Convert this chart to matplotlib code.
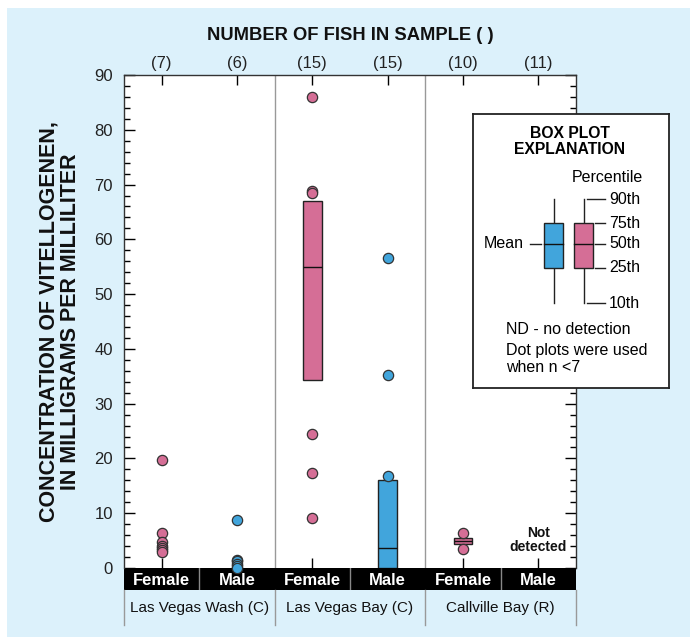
import matplotlib
matplotlib.use("Agg")
import matplotlib.pyplot as plt
from matplotlib.patches import Rectangle
from matplotlib.ticker import MultipleLocator
import numpy as np

# ---------------- data ----------------
groups = ["Female", "Male", "Female", "Male", "Female", "Male"]
sites = ["Las Vegas Wash (C)", "Las Vegas Bay (C)", "Callville Bay (R)"]
counts = [7, 6, 15, 15, 10, 11]

lvw_female_dots = [19.7, 6.3, 4.8, 4.1, 3.6, 3.2, 3.0]
lvw_male_dots = [8.7, 1.5, 1.2, 0.8, 0.4, 0.0]
lvb_female_dots = [86.0, 68.8, 68.4, 24.4, 17.4, 9.1]
lvb_male_dots = [56.6, 35.3, 16.8]
cb_female_dots = [6.3, 3.4]

# box stats: (group index, q1, median, q3)
box_index = [2, 3, 4]
box_q1 = [34.3, 0.0, 4.3]
box_med = [55.0, 3.7, 4.9]
box_q3 = [67.0, 16.1, 5.4]

PINK = "#D56E96"
BLUE = "#41A5DC"
BG = "#DCF1FB"

dot_sets = [lvw_female_dots, lvw_male_dots, lvb_female_dots,
            lvb_male_dots, cb_female_dots, []]

W, H = 690, 637
fig = plt.figure(figsize=(W / 100, H / 100), dpi=100)
fig.patch.set_facecolor("white")
fig.add_artist(Rectangle((7 / W, 0), 1 - 7 / W, 1 - 8 / H, transform=fig.transFigure,
                         facecolor=BG, edgecolor="none", zorder=-10))

FONT = ["Liberation Sans", "DejaVu Sans"]

x_left, x_right = 124, 576
y_top, y_zero, y_bar = 75, 568, 590
ax = fig.add_axes([x_left / W, 1 - y_zero / H, (x_right - x_left) / W, (y_zero - y_top) / H])
ax.set_zorder(3)
ax.set_facecolor("white")
ax.set_xlim(0, 6)
ax.set_ylim(0, 90)
pos = np.arange(len(groups)) + 0.5

# boxes
stats = []
for i, q1, m, q3 in zip(box_index, box_q1, box_med, box_q3):
    stats.append(dict(q1=q1, med=m, q3=q3, whislo=q1, whishi=q3, fliers=[]))
colors = [PINK if groups[i] == "Female" else BLUE for i in box_index]
bp = ax.bxp(stats, positions=[pos[i] for i in box_index], widths=0.25,
            patch_artist=True, showcaps=False, showfliers=False,
            boxprops=dict(linewidth=1.0, edgecolor="#222222"),
            medianprops=dict(color="#111111", linewidth=1.0),
            whiskerprops=dict(linewidth=0), manage_ticks=False)
for patch, c in zip(bp["boxes"], colors):
    patch.set_facecolor(c)
    patch.set_zorder(4)
for med in bp["medians"]:
    med.set_zorder(5)

# dots
for i, vals in enumerate(dot_sets):
    if not vals:
        continue
    c = PINK if groups[i] == "Female" else BLUE
    ax.plot([pos[i]] * len(vals), vals, "o", ms=7.4, mfc=c, mec="#333333",
            mew=0.9, clip_on=False, zorder=6)

# not detected
ax.text(pos[5], 5.1, "Not\ndetected", ha="center", va="center", fontsize=10,
        fontweight="bold", family=FONT, linespacing=1.05, color="#111111")

# site separators
for xs in (2, 4):
    ax.axvline(xs, color="#999999", lw=1.0, zorder=2)

# y ticks
ax.yaxis.set_major_locator(MultipleLocator(10))
ax.yaxis.set_minor_locator(MultipleLocator(2))
ax.tick_params(axis="y", which="major", direction="in", length=8, width=1,
               left=True, right=True, labelsize=12, pad=8, labelcolor="#222222")
ax.tick_params(axis="y", which="minor", direction="in", length=4, width=1,
               left=True, right=True)
for lab in ax.get_yticklabels():
    lab.set_family(FONT)

# x ticks top (counts) and bottom
ax.set_xticks(pos)
ax.set_xticklabels(["(%d)" % c for c in counts], family=FONT)
ax.tick_params(axis="x", direction="in", top=True, bottom=True, labeltop=True,
               labelbottom=False, length=7, width=1, labelsize=12, pad=3,
               labelcolor="#222222")
ax.tick_params(axis="x", which="minor", top=False, bottom=False)
for s in ax.spines.values():
    s.set_color("#333333")
    s.set_linewidth(1.0)
ax.spines["bottom"].set_visible(False)

# title
fig.text(350 / W, 1 - 35 / H, "NUMBER OF FISH IN SAMPLE ( )", ha="center", va="center",
         fontsize=13.2, fontweight="bold", family=FONT, color="#111111")
# y label
fig.text(60 / W, 1 - 322 / H, "CONCENTRATION OF VITELLOGENEN,\nIN MILLIGRAMS PER MILLILITER",
         rotation=90, ha="center", va="center", multialignment="center",
         fontsize=15.5, fontweight="bold", family=FONT, linespacing=1.0, color="#111111")

# black group bar
axb = fig.add_axes([x_left / W, 1 - y_bar / H, (x_right - x_left) / W, (y_bar - y_zero) / H])
axb.set_zorder(2)
axb.set_facecolor("black")
axb.set_xlim(0, 6)
axb.set_ylim(0, 1)
axb.set_xticks([])
axb.set_yticks([])
for s in axb.spines.values():
    s.set_visible(False)
for i, g in enumerate(groups):
    axb.text(pos[i], 0.42, g, ha="center", va="center", color="white",
             fontsize=12, fontweight="bold", family=FONT)
for xs in (1, 3, 5):
    axb.plot([xs, xs], [0, 1], color="#888888", lw=1.0)
for xs in (0, 2, 4, 6):
    axb.plot([xs, xs], [0, -1.6], color="#999999", lw=1.0, clip_on=False)
for k, s in enumerate(sites):
    axb.text(2 * k + 1, -0.82, s, ha="center", va="center", fontsize=11,
             family=FONT, color="#111111")

# legend box
lx0, ly0, lx1, ly1 = 473, 114, 669, 388
axl = fig.add_axes([lx0 / W, 1 - ly1 / H, (lx1 - lx0) / W, (ly1 - ly0) / H])
axl.set_zorder(8)
axl.set_xlim(0, lx1 - lx0)
axl.set_ylim(ly1 - ly0, 0)
axl.set_facecolor("white")
axl.set_xticks([])
axl.set_yticks([])
for s in axl.spines.values():
    s.set_color("#222222")
    s.set_linewidth(1.3)
LFS = 11.5
axl.text(97, 19, "BOX PLOT", ha="center", va="center", fontsize=11.3, fontweight="bold", family=FONT)
axl.text(97, 36, "EXPLANATION", ha="center", va="center", fontsize=11.3, fontweight="bold", family=FONT)
axl.text(134, 64, "Percentile", ha="center", va="center", fontsize=LFS, family=FONT)
for xc, c in ((80.5, BLUE), (110.5, PINK)):
    axl.plot([xc, xc], [85, 189], color="#222222", lw=1.0)
    axl.add_patch(Rectangle((xc - 9.5, 109), 19, 45, facecolor=c, edgecolor="#222222", lw=1.0, zorder=3))
    axl.plot([xc - 9.5, xc + 9.5], [130, 130], color="#111111", lw=1.0, zorder=4)
for yy, lab, x0 in ((85, "90th", 114), (109, "75th", 122), (130, "50th", 122),
                    (154, "25th", 122), (189, "10th", 114)):
    axl.plot([x0, 132], [yy, yy], color="#222222", lw=1.0)
    axl.text(136, yy, lab, ha="left", va="center", fontsize=LFS, family=FONT)
axl.plot([57, 68], [130, 130], color="#222222", lw=1.0)
axl.text(51, 130, "Mean", ha="right", va="center", fontsize=LFS, family=FONT)
axl.text(33, 216, "ND - no detection", ha="left", va="center", fontsize=LFS, family=FONT)
axl.text(33, 236, "Dot plots were used", ha="left", va="center", fontsize=LFS, family=FONT)
axl.text(33, 254, "when n <7", ha="left", va="center", fontsize=LFS, family=FONT)

fig.savefig("out.png", dpi=100, facecolor=fig.get_facecolor())
